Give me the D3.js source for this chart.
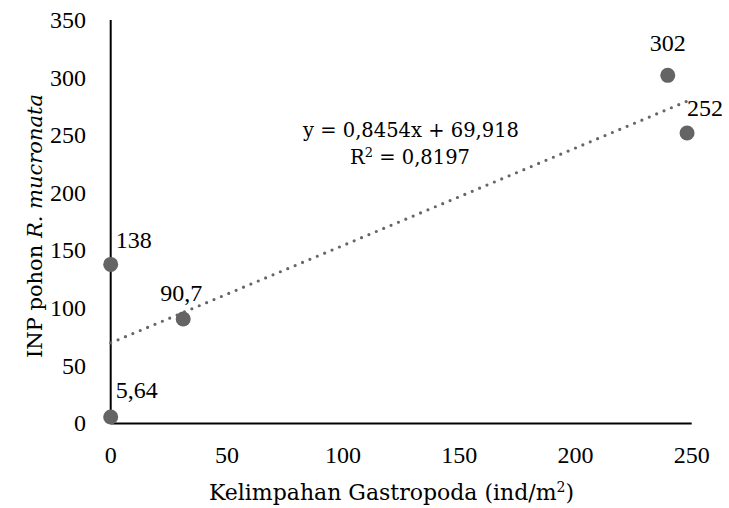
<!DOCTYPE html>
<html><head><meta charset="utf-8">
<script src="https://cdn.jsdelivr.net/npm/d3@7"></script>
<style>body{margin:0;background:#fff}svg{display:block}text{fill:#000}
.num{font-family:"Liberation Serif",serif}.txt{font-family:"DejaVu Serif",serif}</style>
</head><body><svg id="c" width="729" height="508"></svg>
<script>
const xValues = [0, 0, 31.2, 239.7, 248];
const yValues = [5.64, 138, 90.7, 302, 252];
const pointLabels = ["5,64", "138", "90,7", "302", "252"];
const xTicks = [0, 50, 100, 150, 200, 250];
const yTicks = [0, 50, 100, 150, 200, 250, 300, 350];
const trendSlope = 0.8454, trendIntercept = 69.918;
const eqLines = ["y = 0,8454x + 69,918", "R² = 0,8197"];

const svg = d3.select("#c");
const x = d3.scaleLinear().domain([0, 250]).range([110.7, 691.7]);
const y = d3.scaleLinear().domain([0, 350]).range([423.5, 20]);
const FS = 24;

svg.append("g").selectAll("text").data(yTicks).join("text").attr("class", "num")
  .attr("x", 86).attr("y", d => y(d)).attr("dy", "0.33em")
  .attr("text-anchor", "end").attr("font-size", FS).text(d => d);
svg.append("g").selectAll("text").data(xTicks).join("text").attr("class", "num")
  .attr("x", d => x(d)).attr("y", 455).attr("dy", "0.33em")
  .attr("text-anchor", "middle").attr("font-size", FS).text(d => d);

svg.append("line").attr("x1", x(0)).attr("x2", x(250)).attr("y1", y(0)).attr("y2", y(0))
  .attr("stroke", "#000").attr("stroke-width", 2);
svg.append("line").attr("x1", x(0)).attr("x2", x(0)).attr("y1", y(350)).attr("y2", y(0))
  .attr("stroke", "#000").attr("stroke-width", 2);

const xmax = d3.max(xValues);
svg.append("line")
  .attr("x1", x(0)).attr("y1", y(trendIntercept))
  .attr("x2", x(xmax)).attr("y2", y(trendSlope * xmax + trendIntercept))
  .attr("stroke", "#666").attr("stroke-width", 3.2).attr("stroke-linecap", "round")
  .attr("stroke-dasharray", "0,8");

const pts = xValues.map((v, i) => ({x: v, y: yValues[i], l: pointLabels[i]}));
svg.append("g").selectAll("circle").data(pts).join("circle")
  .attr("cx", d => x(d.x)).attr("cy", d => y(d.y)).attr("r", 7.5).attr("fill", "#646464");

const lblOff = [[5, -27], [5, -24], [-23, -26], [-18, -32], [0, -25]];
svg.append("g").selectAll("text").data(pts).join("text").attr("class", "num")
  .attr("x", (d, i) => x(d.x) + lblOff[i][0]).attr("y", (d, i) => y(d.y) + lblOff[i][1])
  .attr("dy", "0.33em").attr("font-size", FS).text(d => d.l);

svg.append("text").attr("class", "txt").attr("x", 411).attr("y", 130).attr("dy", "0.35em")
  .attr("text-anchor", "middle").attr("font-size", 19.5).text(eqLines[0]);
const r2 = svg.append("text").attr("class", "txt").attr("x", 410).attr("y", 157).attr("dy", "0.35em")
  .attr("text-anchor", "middle").attr("font-size", 19.5);
r2.append("tspan").text("R");
r2.append("tspan").attr("baseline-shift", "super").attr("font-size", 13).text("2");
r2.append("tspan").text(" = 0,8197");

const xt = svg.append("text").attr("class", "txt").attr("x", 391.5).attr("y", 492).attr("dy", "0.35em")
  .attr("text-anchor", "middle").attr("font-size", 22);
xt.append("tspan").text("Kelimpahan Gastropoda (ind/m");
xt.append("tspan").attr("baseline-shift", "super").attr("font-size", 14).text("2");
xt.append("tspan").text(")");

const yt = svg.append("text").attr("class", "txt").attr("transform", "translate(35,226) rotate(-90)")
  .attr("dy", "0.35em").attr("text-anchor", "middle").attr("font-size", 21);
yt.append("tspan").text("INP pohon ");
yt.append("tspan").attr("font-style", "italic").text("R. mucronata");
</script></body></html>
